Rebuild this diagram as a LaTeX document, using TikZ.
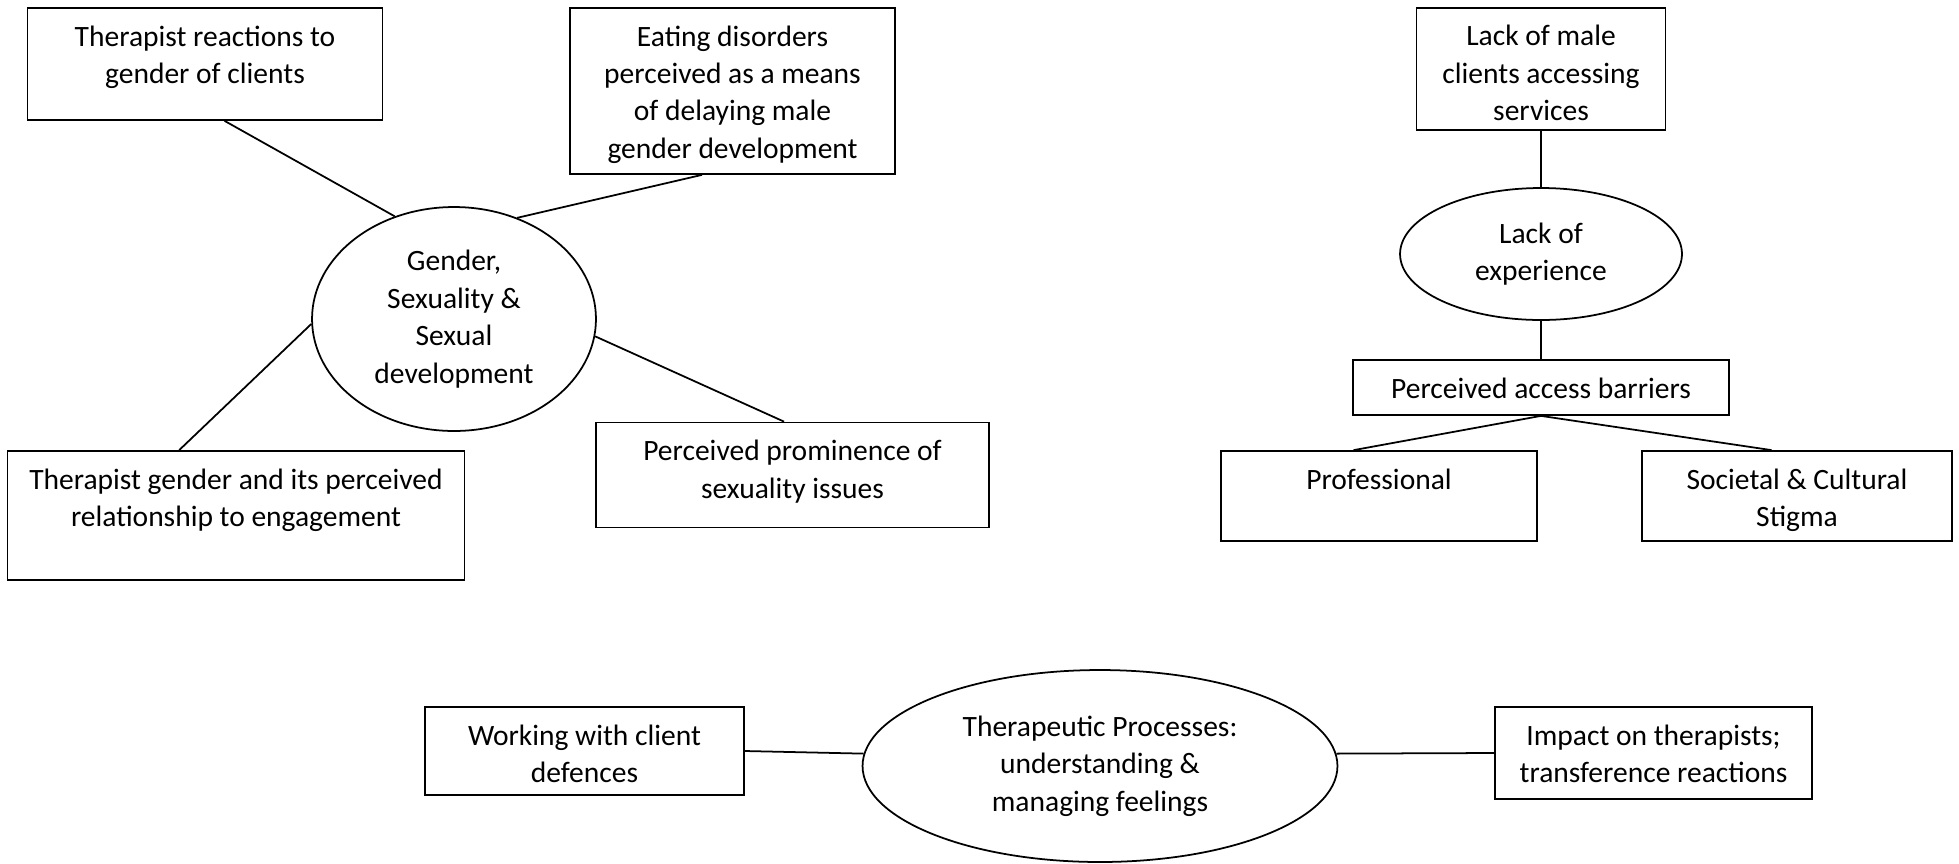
\documentclass[tikz,border=0pt]{standalone}
\usepackage{fontspec}
\setmainfont{Carlito}
\usetikzlibrary{shapes.geometric}

\begin{document}
\begin{tikzpicture}[
            x = 0.02cm, y = -0.02cm, % one unit per pixel, y downwards
            line width = 1pt, % line style
            font = \fontsize{16.8}{21.3}\selectfont
        ]

        \tikzstyle{box}=[
            draw = black,
            rectangle,
            inner sep = 0pt
        ]
        \tikzstyle{oval}=[
            draw = black,
            ellipse,
            inner sep = 0pt,
            align = center
        ]
        \tikzset{toptext/.style={label={[anchor=north, align=center, inner sep=0pt, yshift=-10pt]north:#1}}}

        \useasboundingbox (0,0) rectangle (1959,863);

        % gender and sexuality
        \node[oval, minimum width=5.68cm, minimum height=4.48cm] (gender) at (454,319) {Gender,\\Sexuality \&\\Sexual\\development};

        \node[box, minimum width=7.1cm, minimum height=2.24cm, toptext={Therapist reactions to\\gender of clients}] (reac) at (205,64) {};
        \node[box, minimum width=6.5cm, minimum height=3.32cm, toptext={Eating disorders\\perceived as a means\\of delaying male\\gender development}] (eating) at (732.5,91) {};
        \node[box, minimum width=9.14cm, minimum height=2.58cm, toptext={Therapist gender and its perceived\\relationship to engagement}] (tgender) at (236,515.5) {};
        \node[box, minimum width=7.86cm, minimum height=2.1cm, toptext={Perceived prominence of\\sexuality issues}] (promin) at (792.5,475) {};

        \draw (reac.-71) -- (gender.120);
        \draw (eating.-110) -- (gender.58);
        \draw (tgender.131) -- (gender.182);
        \draw (gender.-7) -- (promin.99);

        % access
        \node[box, minimum width=4.98cm, minimum height=2.45cm, toptext={Lack of male\\clients accessing\\services}] (lackmale) at (1541,69) {};
        \node[oval, minimum width=5.64cm, minimum height=2.64cm] (exper) at (1541,254) {Lack of\\experience};
        \node[box, minimum width=7.52cm, minimum height=1.1cm, toptext={Perceived access barriers}] (barriers) at (1541,387.5) {};
        \node[box, minimum width=6.32cm, minimum height=1.8cm, toptext={Professional}] (prof) at (1379,496) {};
        \node[box, minimum width=6.2cm, minimum height=1.8cm, toptext={Societal \& Cultural\\Stigma}] (stigma) at (1797,496) {};

        \draw (lackmale.south) -- (exper.north);
        \draw (exper.south) -- (barriers.north);
        \draw (barriers.south) -- (prof.119);
        \draw (barriers.south) -- (stigma.119);

        % therapeutic processes
        \node[oval, minimum width=9.5cm, minimum height=3.84cm] (therap) at (1100,766) {Therapeutic Processes:\\understanding \&\\managing feelings};
        \node[box, minimum width=6.38cm, minimum height=1.76cm, toptext={Working with client\\defences}] (defences) at (584.5,751) {};
        \node[box, minimum width=6.34cm, minimum height=1.84cm, toptext={Impact on therapists;\\transference reactions}] (impact) at (1653.5,753) {};

        \draw (defences.east) -- (therap.177);
        \draw (therap.3) -- (impact.west);
    \end{tikzpicture}
\end{document}
